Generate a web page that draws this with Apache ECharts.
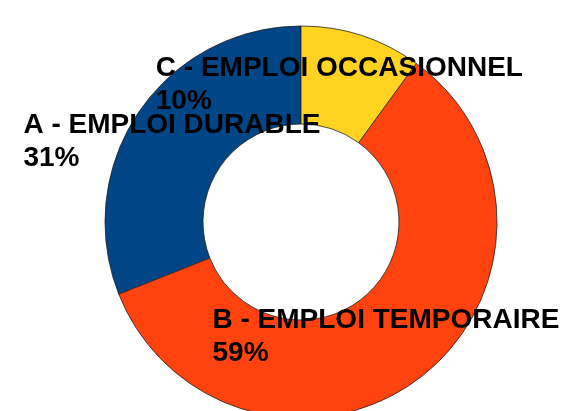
<!DOCTYPE html>
<html lang="fr">
<head>
<meta charset="UTF-8">
<style>
html, body { height: 100%; margin: 0; background: #fff; }
</style>
</head>
<body>
<div id="chart" style="width:585px;height:411px;"></div>
<script src="https://cdn.jsdelivr.net/npm/echarts@6/dist/echarts.min.js"></script>
<script>
    var categories = ['A - EMPLOI DURABLE', 'B - EMPLOI TEMPORAIRE', 'C - EMPLOI OCCASIONNEL'];
    var values = [31, 59, 10];
    var colors = ['#004586', '#ff420e', '#ffd320'];
    // small nudges so the label blocks sit where the original ones do
    var labelOffsets = [[-5, 4], [-7, -4], [-8, 5]];

    var pieData = [];
    for (var i = 0; i < categories.length; i++) {
        pieData.push({
            name: categories[i],
            value: values[i],
            itemStyle: { color: colors[i] },
            label: { offset: labelOffsets[i] }
        });
    }

    var myChart = echarts.init(document.getElementById('chart'));
    myChart.setOption({
        animation: false,
        series: [{
            type: 'pie',
            center: [301, 222],
            radius: [98, 196],
            startAngle: 90,
            clockwise: false,
            avoidLabelOverlap: false,
            labelLayout: { hideOverlap: false },
            data: pieData,
            itemStyle: {
                borderColor: '#222',
                borderWidth: 0.8
            },
            label: {
                show: true,
                position: 'inside',
                minMargin: 0,
                formatter: function (p) {
                    return '{t|' + p.name + '}\n{t|' + Math.round(p.percent) + '%}';
                },
                rich: {
                    t: {
                        align: 'left',
                        color: '#000',
                        fontFamily: 'Liberation Sans',
                        fontWeight: 'bold',
                        fontSize: 28,
                        lineHeight: 33
                    }
                }
            },
            labelLine: { show: false },
            emphasis: { disabled: true }
        }]
    });
</script>
</body>
</html>
